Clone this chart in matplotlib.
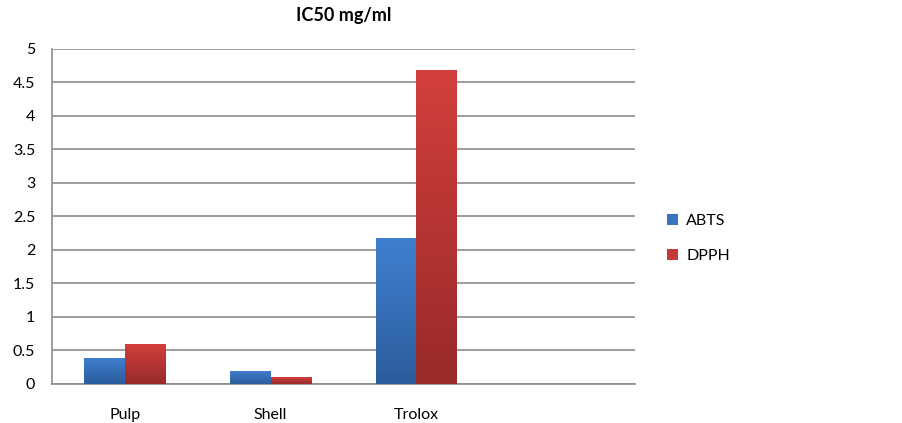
import numpy as np
import matplotlib
matplotlib.use("Agg")
import matplotlib.pyplot as plt
from matplotlib.colors import LinearSegmentedColormap

plt.rcParams['font.family'] = ['Lato', 'DejaVu Sans']

# data
categories = ["Pulp", "Shell", "Trolox", ""]
abts = [0.39, 0.20, 2.18, np.nan]
dpph = [0.59, 0.10, 4.69, np.nan]
yticks = [0, 0.5, 1, 1.5, 2, 2.5, 3, 3.5, 4, 4.5, 5]

fig = plt.figure(figsize=(9.02, 4.23), dpi=100)
ax = fig.add_axes([0.0576, 0.0922, 0.6465, 0.792])

x = np.arange(len(categories))
w = 0.28

blue_cmap = LinearSegmentedColormap.from_list("b", ["#2b5c9c", "#4080d0"])
red_cmap = LinearSegmentedColormap.from_list("r", ["#982a2a", "#d23f3d"])

b1 = ax.bar(x - w/2, abts, w, color="#3a74c0", label="ABTS", zorder=3)
b2 = ax.bar(x + w/2, dpph, w, color="#c43a38", label="DPPH", zorder=3)

# vertical gradient on each bar, clipped to the bar patch
grad = np.linspace(0, 1, 256).reshape(-1, 1)
for bars, cmap in [(b1, blue_cmap), (b2, red_cmap)]:
    for p in bars:
        h = p.get_height()
        if not np.isfinite(h) or h <= 0:
            continue
        x0 = p.get_x()
        im = ax.imshow(grad, cmap=cmap, origin="lower", aspect="auto",
                       extent=[x0, x0 + p.get_width(), 0, h], zorder=3.5)
        im.set_clip_path(p)

ax.set_xlim(-0.5, len(categories) - 0.5)
ax.set_ylim(0, 5)
ax.set_yticks(yticks)
ax.set_yticklabels([f"{t:g}" for t in yticks], fontsize=11.5)
ax.set_xticks(x)
ax.set_xticklabels(categories, fontsize=11.5)
ax.tick_params(axis="x", length=0, pad=17)
ax.tick_params(axis="y", length=0, pad=12)

ax.yaxis.grid(True, color="#8c8c8c", linewidth=1.2, zorder=0)
ax.set_axisbelow(True)
for s in ["top", "right"]:
    ax.spines[s].set_visible(False)
ax.spines["left"].set_color("#8c8c8c")
ax.spines["bottom"].set_color("#8c8c8c")
ax.spines["left"].set_linewidth(1.2)
ax.spines["bottom"].set_linewidth(1.2)

ax.set_title("IC50 mg/ml", fontsize=13, fontweight="bold", pad=20)

ax.legend(loc="center left", bbox_to_anchor=(1.03, 0.435), frameon=False,
          fontsize=11.5, handlelength=0.7, handleheight=0.7, handletextpad=0.5,
          labelspacing=1.3)

fig.savefig("out.png", dpi=100)
